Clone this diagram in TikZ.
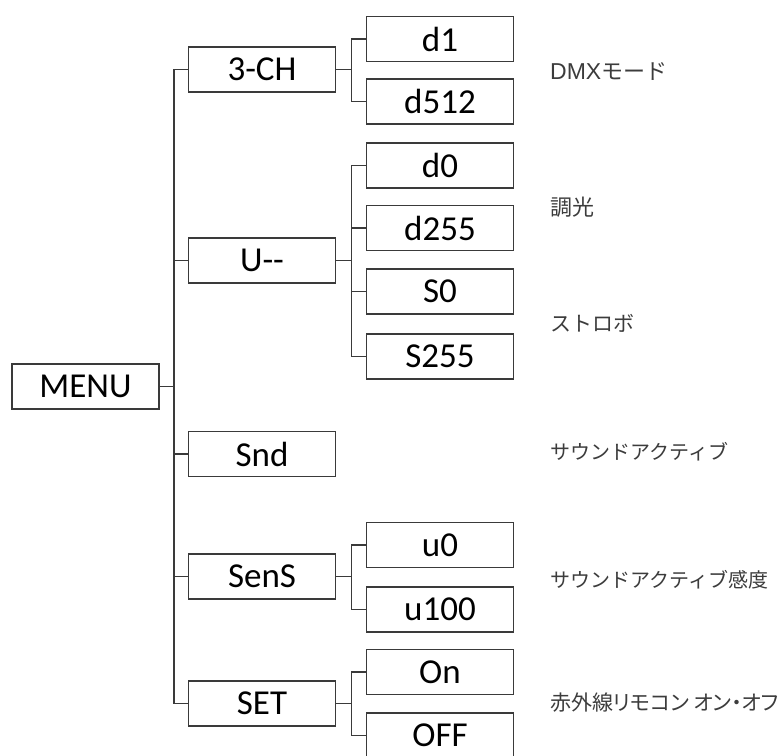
\documentclass[tikz,border=0pt]{standalone}
\usepackage{fontspec}
\setmainfont{Carlito}
\newfontfamily\cjk{Noto Sans CJK JP}
\newfontfamily\cjkp{Noto Sans CJK JP}[RawFeature={+palt}]
\newfontfamily\lat{Liberation Sans}
\definecolor{boxline}{HTML}{3A3A3A}
\definecolor{labelcol}{HTML}{3C3C3C}
\begin{document}
\begin{tikzpicture}[x=1pt,y=-1pt,
  box/.style={draw=boxline,line width=1.5pt,minimum width=147pt,minimum height=45pt,inner sep=0pt,
    font=\fontsize{35}{40}\selectfont,text=black},
  conn/.style={draw=boxline,line width=1.5pt},
  note/.style={anchor=west,inner sep=0pt,text=labelcol,font=\cjk\fontsize{20}{24}\selectfont}]
\clip (0,0) rectangle (783,755);
\useasboundingbox (0,0) rectangle (783,755);
% level 0
\node[box] (menu) at (85.5,386.5) {MENU};
% level 1
\node[box] (ch3)  at (262,69.5)  {3-CH};
\node[box] (u)    at (262,260.5) {U{-}{-}};
\node[box] (snd)  at (262,454)   {Snd};
\node[box] (sens) at (262,576.5) {SenS};
\node[box] (set)  at (262,703.5) {SET};
% level 2
\node[box] (d1)   at (440,39)    {d1};
\node[box] (d512) at (440,101.5) {d512};
\node[box] (d0)   at (440,165.5) {d0};
\node[box] (d255) at (440,228)   {d255};
\node[box] (s0)   at (440,291.5) {S0};
\node[box] (s255) at (440,356.5) {S255};
\node[box] (u0)   at (440,545)   {u0};
\node[box] (u100) at (440,609.5) {u100};
\node[box] (on)   at (440,672)   {On};
\node[box] (off)  at (440,735.5) {OFF};
% connectors level 0 -> 1
\foreach \c in {ch3,u,snd,sens,set}
  \draw[conn] (menu.east) -- ++(14,0) |- (\c.west);
% connectors level 1 -> 2
\foreach \c in {d1,d512}
  \draw[conn] (ch3.east) -- ++(15,0) |- (\c.west);
\foreach \c in {d0,d255,s0,s255}
  \draw[conn] (u.east) -- ++(15,0) |- (\c.west);
\foreach \c in {u0,u100}
  \draw[conn] (sens.east) -- ++(15,0) |- (\c.west);
\foreach \c in {on,off}
  \draw[conn] (set.east) -- ++(15,0) |- (\c.west);
% notes
\node[note] (n1) at (550,72)  {{\lat\fontsize{23}{24}\selectfont DMX}{\fontsize{22}{24}\selectfont モード}};
\node[note,font=\cjk\fontsize{22}{24}\selectfont] (n2) at (550,207) {調光};
\node[note,font=\cjk\fontsize{21}{24}\selectfont] (n3) at (550,323) {ストロボ};
\node[note] (n4) at (550,452) {サウンドアクティブ};
\node[note] (n5) at (550,580) {サウンドアクティブ感度};
\node[note,font=\cjkp\fontsize{21}{24}\selectfont] (n6) at (550,703) {赤外線リモコン オン・オフ};
\end{tikzpicture}
\end{document}
